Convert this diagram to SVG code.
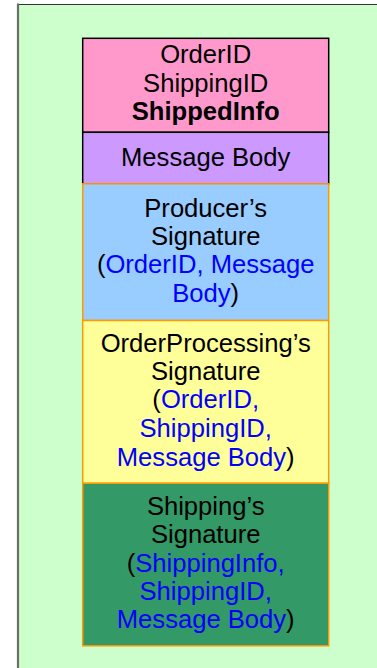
<svg xmlns="http://www.w3.org/2000/svg" width="377" height="668" viewBox="0 0 377 668">
<style>
text{font-family:"Liberation Sans",Arial,sans-serif;font-size:25.6px;text-anchor:middle;fill:#000}
.b{fill:#0000FF}
.bold{font-weight:bold}
.k{stroke:#000;stroke-width:1.5}
.o{stroke:#FF9900;stroke-width:1.5}
</style>
<rect width="377" height="668" fill="#fff"/>
<g id="background">
<rect x="18" y="4" width="370" height="680" fill="#CCFFCC"/>
<line x1="18" y1="4.5" x2="377" y2="4.5" stroke="#333" stroke-width="1.2"/>
<line x1="18" y1="3.5" x2="18" y2="668" stroke="#6b6f6b" stroke-width="2.2"/>
</g>
<g id="connectors"></g>
<g id="header">
<rect class="k" x="82.7" y="38.3" width="246" height="94" fill="#FF99CC"/>
<text x="205.7" y="63.3">OrderID</text>
<text x="205.7" y="91.7">ShippingID</text>
<text x="205.7" y="120" class="bold">ShippedInfo</text>
</g>
<g id="message-body">
<rect class="k" x="82.7" y="132.3" width="246" height="51.5" fill="#CC99FF"/>
<text x="205.7" y="165.7">Message Body</text>
</g>
<g id="producer-signature">
<rect class="o" x="82.7" y="183.8" width="246" height="136.7" fill="#99CCFF"/>
<text x="205.7" y="216.7">Producer’s</text>
<text x="205.7" y="244.5">Signature</text>
<text x="205.7" y="273.3">(<tspan class="b">OrderID, Message</tspan></text>
<text x="205.7" y="301.7"><tspan class="b">Body</tspan>)</text>
</g>
<g id="orderprocessing-signature">
<rect class="o" x="82.7" y="320.5" width="246" height="162.8" fill="#FFFF99"/>
<text x="205.7" y="351.7">OrderProcessing’s</text>
<text x="205.7" y="380">Signature</text>
<text x="205.7" y="408.3">(<tspan class="b">OrderID,</tspan></text>
<text x="205.7" y="437.3" class="b">ShippingID,</text>
<text x="205.7" y="466.3"><tspan class="b">Message Body</tspan>)</text>
</g>
<g id="shipping-signature">
<rect class="o" x="82.7" y="483.3" width="246" height="162.5" fill="#339966"/>
<text x="205.7" y="515">Shipping’s</text>
<text x="205.7" y="543.3">Signature</text>
<text x="205.7" y="571.7">(<tspan class="b">ShippingInfo,</tspan></text>
<text x="205.7" y="600" class="b">ShippingID,</text>
<text x="205.7" y="628.3"><tspan class="b">Message Body</tspan>)</text>
</g>
</svg>
